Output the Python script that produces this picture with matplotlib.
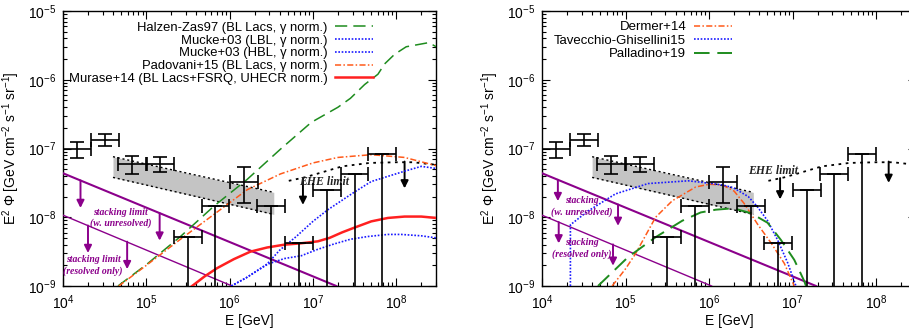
import numpy as np
import matplotlib.pyplot as plt
from matplotlib.ticker import FixedLocator, FuncFormatter, NullFormatter

plt.rcParams['font.family'] = ['Liberation Sans', 'DejaVu Sans']
plt.rcParams['mathtext.fontset'] = 'custom'
plt.rcParams['mathtext.rm'] = 'Liberation Sans'
plt.rcParams['mathtext.it'] = 'Liberation Sans:italic'
plt.rcParams['mathtext.default'] = 'regular'

# ---- IceCube data (log10 E bin centres, bins are 1/3 decade wide) ----
lg_bin = 1.0 / 3.0
lgE_pts = [4.17, 4.50, 4.83, 5.17, 6.17]
F_pts = [1.0e-7, 1.35e-7, 6.0e-8, 6.0e-8, 3.3e-8]
F_pts_hi = [1.26e-7, 1.6e-7, 7.9e-8, 7.6e-8, 5.3e-8]
F_pts_lo = [7.2e-8, 1.1e-7, 4.3e-8, 4.6e-8, 1.6e-8]

lgE_ul = [5.50, 5.83, 6.50, 6.83, 7.17, 7.50, 7.83]
F_ul = [5.1e-9, 1.44e-8, 1.44e-8, 4.2e-9, 2.45e-8, 4.2e-8, 8.2e-8]

# through-going muon band
lgE_band = [4.60, 6.53]
F_band_hi = [7.6e-8, 2.3e-8]
F_band_lo = [3.8e-8, 1.1e-8]

# EHE limit
lgE_ehe = [6.71, 6.90, 7.10, 7.35, 7.68, 8.00, 8.20, 8.50]
lgF_ehe = [-7.47, -7.42, -7.35, -7.26, -7.21, -7.20, -7.20, -7.24]
lgE_ehe_arrows = {'left': [6.88, 8.10], 'right': [6.85, 8.15]}
lgF_ehe_arrows = [-7.43, -7.19]

# stacking limits
lgE_stack_thick = [4.0, 7.28]
lgF_stack_thick = [-7.36, -9.0]
lgE_stack_thin = [4.0, 6.03]
lgF_stack_thin = [-7.97, -9.0]
lgE_arr_thick = {'left': [4.21, 5.16], 'right': [4.19, 4.91]}
lgF_arr_thick = {'left': [-7.465, -7.94], 'right': [-7.455, -7.815]}
lgE_arr_thin = {'left': [4.30, 4.77], 'right': [4.20, 4.85]}
lgF_arr_thin = {'left': [-8.12, -8.355], 'right': [-8.07, -8.395]}

# ---- left panel models ----
lgE_halzen = [4.66, 5.01, 5.41, 5.81, 6.21, 6.61, 6.98, 7.30, 7.45, 7.62, 7.78, 7.86, 7.98, 8.12, 8.39, 8.48]
lgF_halzen = [-9.0, -8.68, -8.28, -7.84, -7.45, -7.01, -6.62, -6.40, -6.27, -6.07, -5.92, -5.77, -5.63, -5.52, -5.46, -5.52]
lgE_lbl = [6.02, 6.20, 6.45, 6.60, 6.80, 7.00, 7.18, 7.49, 7.70, 8.10, 8.30, 8.48]
lgF_lbl = [-9.0, -8.88, -8.68, -8.48, -8.28, -8.06, -7.89, -7.64, -7.48, -7.33, -7.26, -7.29]
lgE_hbl = [6.02, 6.20, 6.46, 6.66, 6.86, 7.05, 7.25, 7.45, 7.66, 7.90, 8.06, 8.30, 8.48]
lgF_hbl = [-9.0, -8.88, -8.68, -8.60, -8.56, -8.47, -8.39, -8.32, -8.28, -8.25, -8.25, -8.27, -8.30]
lgE_padovani = [4.67, 5.00, 5.41, 5.81, 6.21, 6.61, 7.00, 7.30, 7.70, 8.10, 8.48]
lgF_padovani = [-9.0, -8.70, -8.32, -7.96, -7.60, -7.37, -7.21, -7.13, -7.09, -7.13, -7.25]
lgE_murase = [5.55, 5.70, 5.85, 6.05, 6.25, 6.45, 6.65, 6.85, 7.06, 7.20, 7.35, 7.50, 7.70, 7.90, 8.10, 8.30, 8.48]
lgF_murase = [-9.0, -8.86, -8.74, -8.61, -8.50, -8.44, -8.40, -8.38, -8.35, -8.30, -8.22, -8.15, -8.06, -8.01, -7.99, -7.99, -8.01]

# ---- right panel models ----
lgE_dermer = [4.84, 5.00, 5.12, 5.36, 5.56, 5.84, 6.00, 6.16, 6.30, 6.42, 6.58, 6.74, 6.90, 7.02]
lgF_dermer = [-9.0, -8.75, -8.53, -8.00, -7.76, -7.56, -7.52, -7.53, -7.62, -7.80, -8.10, -8.37, -8.67, -9.0]
lgE_tavecchio = [4.34, 4.34, 4.55, 4.88, 5.27, 5.75, 5.90, 6.16, 6.29, 6.47, 6.58, 6.70, 6.82, 6.94, 7.04]
lgF_tavecchio = [-9.0, -8.11, -7.91, -7.66, -7.51, -7.47, -7.49, -7.53, -7.57, -7.70, -7.85, -8.05, -8.33, -8.66, -9.0]
lgE_palladino = [4.67, 5.03, 5.36, 5.68, 5.90, 6.08, 6.29, 6.50, 6.70, 6.86, 7.02, 7.14, 7.16]
lgF_palladino = [-9.0, -8.58, -8.29, -8.05, -7.93, -7.89, -7.87, -7.94, -8.08, -8.33, -8.62, -8.93, -9.0]

purple = '#8b008b'
c_green = '#1e8c1e'
c_blue = '#1a1aff'
c_orange = '#ff5a1a'
c_red = '#ff2020'


def p(a):
    return 10 ** np.asarray(a, dtype=float)


def setup_axes(ax):
    ax.set_xscale('log')
    ax.set_yscale('log')
    ax.set_xlim(1e4, 3e8)
    ax.set_ylim(1e-9, 1e-5)
    ax.xaxis.set_major_locator(FixedLocator(p([4, 5, 6, 7, 8])))
    ax.yaxis.set_major_locator(FixedLocator(p([-9, -8, -7, -6, -5])))
    fmt = FuncFormatter(lambda v, pos: '10$^{%d}$' % round(np.log10(v)))
    ax.xaxis.set_major_formatter(fmt)
    ax.yaxis.set_major_formatter(fmt)
    ax.xaxis.set_minor_formatter(NullFormatter())
    ax.yaxis.set_minor_formatter(NullFormatter())
    ax.tick_params(which='both', direction='in', top=True, right=True, width=0.8, labelsize=10)
    ax.tick_params(which='major', length=6, pad=5)
    ax.tick_params(which='minor', length=3)
    for s in ax.spines.values():
        s.set_linewidth(1.0)
    ax.set_xlabel('E [GeV]', fontsize=10, labelpad=2)
    ax.set_ylabel(r'E$^2$ $\Phi$ [GeV cm$^{-2}$ s$^{-1}$ sr$^{-1}$]', fontsize=10, labelpad=4)


def down_arrow(ax, x, y0, y1, color, lw=1.4):
    ax.annotate('', xy=(x, y1), xytext=(x, y0),
                arrowprops=dict(arrowstyle='-|>', color=color, lw=lw,
                                mutation_scale=11, shrinkA=0, shrinkB=0))


def draw_common(ax, side, ehe_drop, stack_drop, ehe_txt):
    # muon band
    ax.fill_between(p(lgE_band), F_band_lo, F_band_hi, color='#c4c4c4', lw=0, zorder=1)
    ax.plot(p(lgE_band), F_band_hi, color='k', ls=(0, (1.5, 2)), lw=1.0, zorder=2)
    ax.plot(p(lgE_band), F_band_lo, color='k', ls=(0, (1.5, 2)), lw=1.0, zorder=2)

    # stacking limits
    ax.plot(p(lgE_stack_thick), p(lgF_stack_thick), color=purple, lw=1.5, zorder=3)
    ax.plot(p(lgE_stack_thin), p(lgF_stack_thin), color=purple, lw=1.0, zorder=3)
    for x, y in zip(lgE_arr_thick[side], lgF_arr_thick[side]):
        down_arrow(ax, 10 ** x, 10 ** y, 10 ** (y - stack_drop), purple)
    for x, y in zip(lgE_arr_thin[side], lgF_arr_thin[side]):
        down_arrow(ax, 10 ** x, 10 ** y, 10 ** (y - stack_drop), purple)

    # EHE limit
    ax.plot(p(lgE_ehe), p(lgF_ehe), color='k', ls=(0, (1.5, 2.5)), lw=1.3, zorder=3)
    for x, y in zip(lgE_ehe_arrows[side], lgF_ehe_arrows):
        down_arrow(ax, 10 ** x, 10 ** y, 10 ** (y - ehe_drop), 'k')
    ax.text(10 ** ehe_txt[0], 10 ** ehe_txt[1], 'EHE limit', family='Liberation Serif',
            style='italic', weight='bold', fontsize=8.5, color='#222222',
            ha='center', va='center', zorder=4)

    # IceCube points
    E = p(lgE_pts)
    ax.errorbar(E, F_pts,
                xerr=[E - p(np.array(lgE_pts) - lg_bin / 2), p(np.array(lgE_pts) + lg_bin / 2) - E],
                yerr=[np.array(F_pts) - F_pts_lo, np.array(F_pts_hi) - F_pts],
                fmt='none', ecolor='k', elinewidth=1.2, capsize=5, capthick=1.2, zorder=6)
    Eu = p(lgE_ul)
    ax.errorbar(Eu, F_ul,
                xerr=[Eu - p(np.array(lgE_ul) - lg_bin / 2), p(np.array(lgE_ul) + lg_bin / 2) - Eu],
                yerr=[np.array(F_ul) * 0.999, np.zeros(len(F_ul))],
                fmt='none', ecolor='k', elinewidth=1.2, capsize=5, capthick=1.2, zorder=6)


fig = plt.figure(figsize=(9.09, 3.28), dpi=100)
axL = fig.add_axes([63 / 909, 42 / 328, 373 / 909, 275 / 328])
axR = fig.add_axes([542 / 909, 42 / 328, 374 / 909, 275 / 328])

stack_font = dict(family='Liberation Serif', style='italic', weight='bold',
                  fontsize=7, color=purple, ha='center', va='center',
                  linespacing=1.3, zorder=5)

# left panel
setup_axes(axL)
draw_common(axL, 'left', 0.39, 0.40, (7.13, -7.49))
axL.text(10 ** 4.69, 10 ** -8.01, 'stacking limit\n(w. unresolved)', **stack_font)
axL.text(10 ** 4.36, 10 ** -8.70, 'stacking limit\n(resolved only)', **stack_font)
h1, = axL.plot(p(lgE_halzen), p(lgF_halzen), color=c_green, ls=(0, (8, 4)), lw=1.1, zorder=4)
h2, = axL.plot(p(lgE_lbl), p(lgF_lbl), color=c_blue, ls=(0, (1, 1)), lw=1.2, zorder=4)
h3, = axL.plot(p(lgE_hbl), p(lgF_hbl), color=c_blue, ls=(0, (1, 1)), lw=1.2, zorder=4)
h4, = axL.plot(p(lgE_padovani), p(lgF_padovani), color=c_orange, ls=(0, (4, 1.5, 1, 1.5)), lw=1.1, zorder=4)
h5, = axL.plot(p(lgE_murase), p(lgF_murase), color=c_red, lw=1.8, zorder=4)
axL.legend([h1, h2, h3, h4, h5],
           ['Halzen-Zas97 (BL Lacs, \u03b3 norm.)', 'Mucke+03 (LBL, \u03b3 norm.)',
            'Mucke+03 (HBL, \u03b3 norm.)', 'Padovani+15 (BL Lacs, \u03b3 norm.)',
            'Murase+14 (BL Lacs+FSRQ, UHECR norm.)'],
           loc='upper right', bbox_to_anchor=(0.831, 0.961), markerfirst=False,
           frameon=False, fontsize=9.4, handlelength=2.9, handletextpad=0.6,
           labelspacing=0.05, borderpad=0, borderaxespad=0)

# right panel
setup_axes(axR)
draw_common(axR, 'right', 0.31, 0.31, (6.77, -7.33))
axR.text(10 ** 4.48, 10 ** -7.84, 'stacking\n(w. unresolved)', **stack_font)
axR.text(10 ** 4.48, 10 ** -8.45, 'stacking\n(resolved only)', **stack_font)
g1, = axR.plot(p(lgE_dermer), p(lgF_dermer), color=c_orange, ls=(0, (4, 1.5, 1, 1.5)), lw=1.1, zorder=4)
g2, = axR.plot(p(lgE_tavecchio), p(lgF_tavecchio), color=c_blue, ls=(0, (1, 1)), lw=1.2, zorder=4)
g3, = axR.plot(p(lgE_palladino), p(lgF_palladino), color=c_green, ls=(0, (8, 4)), lw=1.4, zorder=4)
axR.legend([g1, g2, g3], ['Dermer+14', 'Tavecchio-Ghisellini15', 'Palladino+19'],
           loc='upper right', bbox_to_anchor=(0.509, 0.964), markerfirst=False,
           frameon=False, fontsize=9.5, handlelength=2.9, handletextpad=0.6,
           labelspacing=0.1, borderpad=0, borderaxespad=0)

fig.savefig('out.png', dpi=100)
